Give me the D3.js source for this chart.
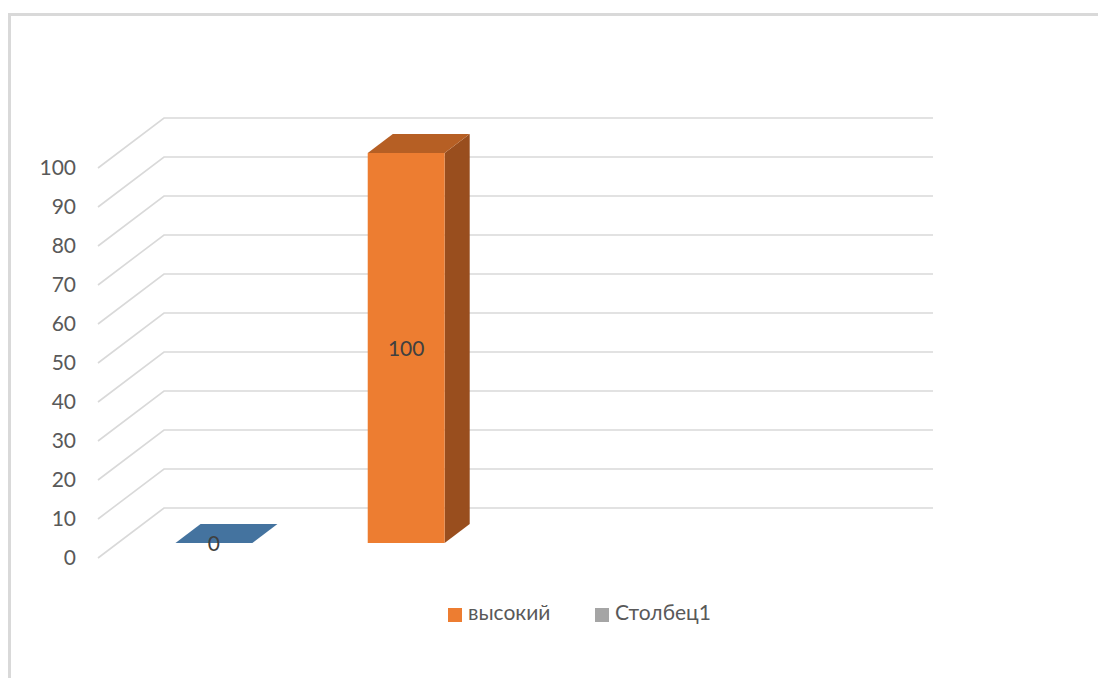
<!DOCTYPE html>
<html>
<head>
<meta charset="utf-8">
<script src="https://cdn.jsdelivr.net/npm/d3@7"></script>
<style>
  html, body { margin: 0; padding: 0; background: #fff; }
  svg { display: block; }
  text { font-family: Lato, "Open Sans", "Liberation Sans", sans-serif; }
</style>
</head>
<body>
<svg id="chart" width="1098" height="678"></svg>
<script>
// Slots along the floor of the 3-D plot
const slots = ["1", "2", "3", "4"];
// Bars: slot, value, face colours
const barSlots = ["1", "2"];
const barValues = [0, 100];
const barFront = ["#5b9bd5", "#ed7d31"];
const barTop = ["#44739f", "#b65f24"];
const barSide = ["#3d678f", "#994e1e"];
// Value axis ticks
const yTicks = [0, 10, 20, 30, 40, 50, 60, 70, 80, 90, 100];
// Legend
const legendNames = ["высокий", "Столбец1"];
const legendColors = ["#ed7d31", "#a5a5a5"];

const svg = d3.select("#chart");

// Outer frame of the chart area
svg.append("path")
  .attr("d", "M9.5,680 V14.5 H1100")
  .attr("fill", "none")
  .attr("stroke", "#d9d9d9")
  .attr("stroke-width", 3);

// Front-plane scales; depth is an oblique offset
const x = d3.scaleBand().domain(slots).range([98, 867]).paddingInner(0).paddingOuter(0);
const y = d3.scaleLinear().domain([0, 100]).range([558, 168]);
const depthX = 66, depthY = -50;
const proj = (xf, v, z) => [xf + z * depthX, y(v) + z * depthY];

// Gridlines: side wall diagonal + back wall horizontal
const grid = svg.append("g");
yTicks.forEach(t => {
  const p0 = proj(98, t, 0), p1 = proj(98, t, 1), p2 = proj(867, t, 1);
  grid.append("path")
    .attr("d", d3.line()([p0, p1, p2]))
    .attr("fill", "none")
    .attr("stroke", "#d9d9d9")
    .attr("stroke-width", 1.6);
});

// Value axis labels
const axis = svg.append("g")
  .attr("transform", "translate(98,0)")
  .call(d3.axisLeft(y).tickValues(yTicks).tickSize(0).tickPadding(22).tickFormat(d3.format("d")));
axis.select(".domain").remove();
axis.selectAll("text")
  .attr("fill", "#595959")
  .style("font-size", "21px")
  .style("font-family", "Lato, 'Open Sans', sans-serif");

// 3-D bars
const z0 = 0.3, z1 = 0.68;
const barW = x.bandwidth() * 0.4;
const bars = svg.append("g");
barSlots.forEach((s, i) => {
  const v = barValues[i];
  const xl = x(s) + (x.bandwidth() - barW) / 2;
  const xr = xl + barW;
  const ln = d3.line();
  // side face
  if (v > 0) {
    bars.append("path")
      .attr("d", ln([proj(xr, 0, z0), proj(xr, 0, z1), proj(xr, v, z1), proj(xr, v, z0)]) + "Z")
      .attr("fill", barSide[i]);
  }
  // top face
  bars.append("path")
    .attr("d", ln([proj(xl, v, z0), proj(xr, v, z0), proj(xr, v, z1), proj(xl, v, z1)]) + "Z")
    .attr("fill", barTop[i]);
  // front face
  if (v > 0) {
    bars.append("path")
      .attr("d", ln([proj(xl, 0, z0), proj(xr, 0, z0), proj(xr, v, z0), proj(xl, v, z0)]) + "Z")
      .attr("fill", barFront[i]);
  }
  // data label at the centre of the front face
  const c = proj((xl + xr) / 2, v / 2, z0);
  bars.append("text")
    .attr("x", c[0])
    .attr("y", c[1] + 3)
    .attr("text-anchor", "middle")
    .attr("dominant-baseline", "middle")
    .attr("fill", "#404040")
    .style("font-size", "21px")
    .text(d3.format("d")(v));
});

// Legend
const legend = svg.append("g");
const legendX = [448, 595];
legendNames.forEach((n, i) => {
  legend.append("rect")
    .attr("x", legendX[i]).attr("y", 608)
    .attr("width", 14).attr("height", 14)
    .attr("fill", legendColors[i]);
  legend.append("text")
    .attr("x", legendX[i] + 20).attr("y", 615)
    .attr("dominant-baseline", "middle")
    .attr("fill", "#595959")
    .style("font-size", "21px")
    .text(n);
});
</script>
</body>
</html>
